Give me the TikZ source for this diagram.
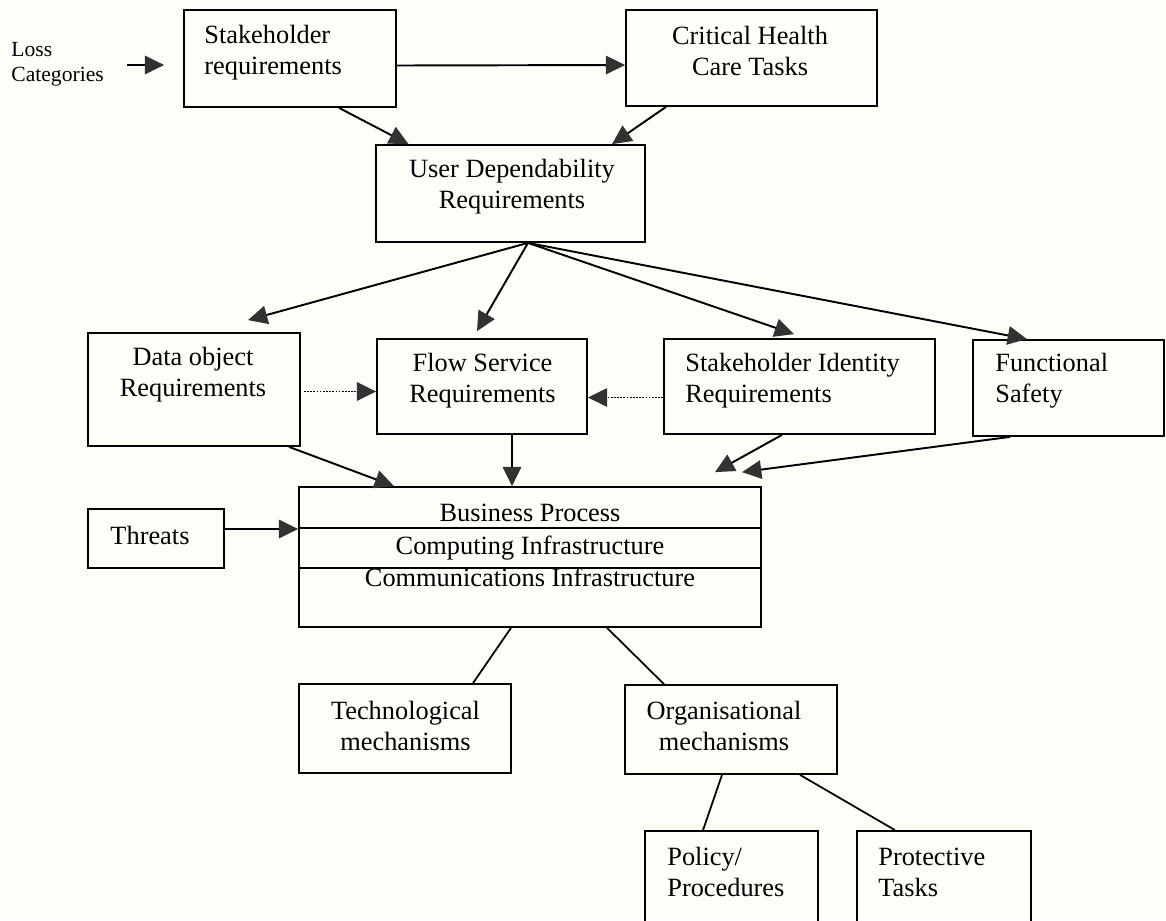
\documentclass[tikz,border=0pt]{standalone}
\usepackage{fontspec}
\setmainfont{Liberation Serif}
\usetikzlibrary{arrows.meta,calc,fit}
\definecolor{bgcol}{RGB}{254,254,249}
\definecolor{headcol}{RGB}{50,50,50}
\begin{document}
\begin{tikzpicture}[x=0.02cm,y=-0.02cm,
  box/.style={draw=black, line width=1pt, inner sep=0pt},
  txt/.style={font=\fontsize{15}{17.6}\selectfont, inner sep=0pt, text=black},
  smalltxt/.style={font=\fontsize{12.3}{14.2}\selectfont, inner sep=0pt, text=black},
  arr/.style={draw=black, line width=1.1pt, -{Triangle[length=11pt,width=10.5pt,color=headcol]}},
  dotarr/.style={arr, dash pattern=on 1pt off 0.8pt},
  link/.style={draw=black, line width=1pt}]
\clip (0,0) rectangle (1166,920);
\fill[bgcol] (0,0) rectangle (1166,920);

% boxes
\node[box, fit={(184,10)(396,107)}] (sr) {};
\node[box, fit={(626,10)(877,106)}] (cht) {};
\node[box, fit={(376,145)(645,242)}] (ud) {};
\node[box, fit={(88,333)(300,446)}] (dor) {};
\node[box, fit={(377,339)(587,434)}] (fsr) {};
\node[box, fit={(664,339)(935,434)}] (sir) {};
\node[box, fit={(973,340)(1164,436)}] (fs) {};
\node[box, fit={(299,487)(761,627)}] (bp) {};
\node[box, fit={(88,509)(224,568)}] (thr) {};
\node[box, fit={(299,684)(511,773)}] (tm) {};
\node[box, fit={(625,685)(837,774)}] (om) {};
\node[box, fit={(645,831)(818,940)}] (pp) {};
\node[box, fit={(857,831)(1031,940)}] (pt) {};

% inner divider lines of the layered box
\draw[link] ($(bp.north west)+(0,42)$) -- ($(bp.north east)+(0,42)$);
\draw[link] ($(bp.north west)+(0,82)$) -- ($(bp.north east)+(0,82)$);

% texts
\node[smalltxt, anchor=west, align=left] (lc) at (11,64.5) {Loss\\Categories};
\node[txt, anchor=west, align=left] (t-sr) at (204,52.5) {Stakeholder\\requirements};
\node[txt, align=center] (t-cht) at (750,51) {Critical Health\\Care Tasks};
\node[txt, align=center] (t-ud) at (512,187) {User Dependability\\Requirements};
\node[txt, align=center] (t-dor) at (193,375) {Data object\\Requirements};
\node[txt, align=center] (t-fsr) at (482.5,381) {Flow Service\\Requirements};
\node[txt, anchor=west, align=left] (t-sir) at (685,381) {Stakeholder Identity\\Requirements};
\node[txt, anchor=west, align=left] (t-fs) at (995,381) {Functional\\Safety};
\node[txt] (t-bp1) at (530,513) {Business Process};
\node[txt] (t-bp2) at (530,548) {Computing Infrastructure};
\node[txt] (t-bp3) at (530,577) {Communications Infrastructure};
\node[txt] (t-thr) at (150,535) {Threats};
\node[txt, align=center] (t-tm) at (405.5,726) {Technological\\mechanisms};
\node[txt, align=center] (t-om) at (724,726) {Organisational\\mechanisms};
\node[txt, anchor=west, align=left] (t-pp) at (667,872) {Policy/\\Procedures};
\node[txt, anchor=west, align=left] (t-pt) at (878,872) {Protective\\Tasks};

% connectors
\draw[arr] ($(lc.east)+(23,0.5)$) -- ($(sr.west)+(-19,6.5)$);
\draw[arr] ($(sr.east)+(0,7)$) -- ($(cht.west)+(0,7)$);
\draw[arr] ($(sr.south)+(49,0)$) -- ($(ud.north)+(-102,0)$);
\draw[arr] ($(cht.south)+(-85.5,0)$) -- ($(ud.north)+(101.5,0)$);

\draw[arr] ($(ud.south)+(17.5,0)$) -- ($(dor.north)+(54,-12)$);
\draw[arr] ($(ud.south)+(17.5,0)$) -- ($(fsr.north)+(-5,-7)$);
\draw[arr] ($(ud.south)+(17.5,0)$) -- ($(sir.north)+(-5.5,-4)$);
\draw[arr] ($(ud.south)+(17.5,0)$) -- ($(fs.north)+(-41.5,0)$);

\draw[dotarr] ($(dor.east)+(3,2)$) -- ($(fsr.west)+(0,5)$);
\draw[dotarr] ($(sir.west)+(0,11)$) -- ($(fsr.east)+(0,11)$);

\draw[arr] ($(dor.south)+(95,0)$) -- ($(bp.north)+(-136,0)$);
\draw[arr] ($(fsr.south)+(30,0)$) -- ($(bp.north)+(-18,0)$);
\draw[arr] ($(sir.south)+(-17.5,0)$) -- ($(bp.north)+(185,-14)$);
\draw[arr] ($(fs.south)+(-58.5,0)$) -- ($(bp.north)+(212,-14)$);
\draw[arr] ($(thr.east)+(0,-9.5)$) -- ($(bp.west)+(0,-28)$);

\draw[link] ($(bp.south)+(-19,0)$) -- ($(tm.north)+(68,0)$);
\draw[link] ($(bp.south)+(77,0)$) -- ($(om.north)+(-67,0)$);
\draw[link] ($(om.south)+(-9,0)$) -- ($(pp.north)+(-28.5,0)$);
\draw[link] ($(om.south)+(69,0)$) -- ($(pt.north)+(-49,0)$);
\end{tikzpicture}
\end{document}
